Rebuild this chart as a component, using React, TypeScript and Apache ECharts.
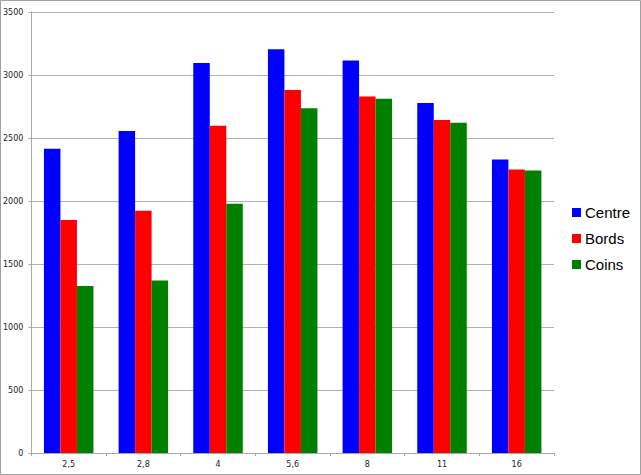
import React, { useEffect, useRef } from "react";
import * as echarts from "echarts";

const categories = ["2,5", "2,8", "4", "5,6", "8", "11", "16"];
const centre = [2415, 2555, 3095, 3205, 3115, 2778, 2330];
const bords = [1850, 1923, 2598, 2880, 2830, 2642, 2250];
const coins = [1325, 1370, 1978, 2737, 2812, 2622, 2242];
const seriesNames = ["Centre", "Bords", "Coins"];
const colors = ["#0000ff", "#ff0000", "#008000"];

export default function App() {
  const ref = useRef<HTMLDivElement>(null);
  useEffect(() => {
    const chart = echarts.init(ref.current!, null, { renderer: "svg" });
    const data = [centre, bords, coins];
    chart.setOption({
      animation: false,
      backgroundColor: "#ffffff",
      grid: { left: 30, right: 87, top: 12, bottom: 22, containLabel: false },
      graphic: [
        {
          type: "rect",
          shape: { x: 0.5, y: 0.5, width: 640, height: 474 },
          style: { fill: "none", stroke: "#a0a0a0", lineWidth: 1 },
          silent: true,
        },
      ],
      legend: {
        orient: "vertical",
        left: 567,
        top: 200,
        itemWidth: 9,
        itemHeight: 9,
        itemGap: 11,
        icon: "rect",
        data: seriesNames,
        textStyle: { fontFamily: "Liberation Sans", fontSize: 15, color: "#000", padding: [0, 0, 0, -1] },
      },
      xAxis: {
        type: "category",
        data: categories,
        axisLine: { lineStyle: { color: "#a8a8a8", width: 1 } },
        axisTick: { show: true, length: 3, lineStyle: { color: "#a8a8a8" } },
        axisLabel: { fontFamily: "DejaVu Sans", fontSize: 8, color: "#222", margin: 7 },
      },
      yAxis: {
        type: "value",
        min: 0,
        max: 3500,
        interval: 500,
        axisLine: { show: true, lineStyle: { color: "#a8a8a8", width: 1 } },
        axisTick: { show: true, length: 3, lineStyle: { color: "#a8a8a8" } },
        splitLine: { lineStyle: { color: "#b0b0b0", width: 1 } },
        axisLabel: {
          fontFamily: "DejaVu Sans",
          fontSize: 8,
          color: "#222",
          margin: 8,
          formatter: (v: number) => String(v),
        },
      },
      series: seriesNames.map((name, i) => ({
        name,
        type: "bar",
        data: data[i],
        barWidth: 16.5,
        barGap: "0%",
        itemStyle: { color: colors[i] },
      })),
    });
    return () => chart.dispose();
  }, []);
  return (
    <div
      ref={ref}
      style={{ position: "fixed", left: 0, top: 0, width: 641, height: 475 }}
    />
  );
}
